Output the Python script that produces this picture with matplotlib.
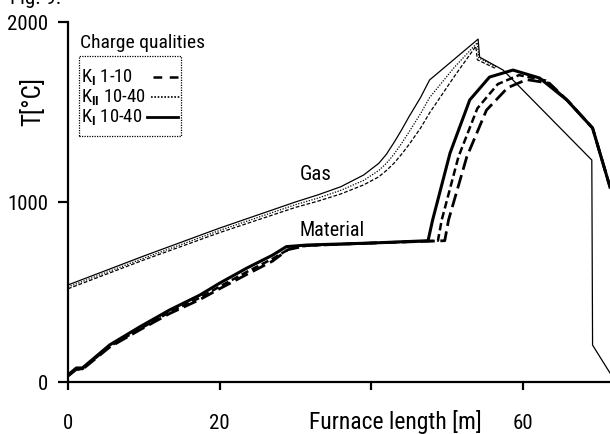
import matplotlib
matplotlib.use("Agg")
import matplotlib.pyplot as plt
import matplotlib.font_manager as fm
from matplotlib.lines import Line2D
from matplotlib.patches import Rectangle

# pick a narrow sans font if one is installed
_names = {f.name for f in fm.fontManager.ttflist}
NARROW = None
for cand in ['Liberation Sans Narrow', 'Arial Narrow', 'Roboto Condensed', 'Open Sans Condensed',
             'Noto Sans Condensed', 'DejaVu Sans Condensed']:
    if cand in _names:
        NARROW = cand
        break
STRETCH = 'normal'
if NARROW is None:
    for f in fm.fontManager.ttflist:
        if f.name in ('Roboto', 'Noto Sans', 'Open Sans') and str(f.stretch) in ('condensed', 'semi-condensed', 'extra-condensed'):
            NARROW = f.name
            STRETCH = 'condensed'
            break
BASE = NARROW if NARROW else 'Liberation Sans'
K = 1.0 if NARROW else 0.88

plt.rcParams['font.family'] = [BASE, 'DejaVu Sans']
plt.rcParams['font.stretch'] = STRETCH
plt.rcParams['mathtext.fontset'] = 'custom'
plt.rcParams['mathtext.rm'] = BASE
plt.rcParams['mathtext.bf'] = BASE + ':bold'
plt.rcParams['mathtext.it'] = BASE

# ---------------- data ----------------
gas_solid_x = [0, 10, 20, 30, 33, 36, 39, 41, 42, 43, 44, 45, 46.5, 47.7, 51, 54.1, 54.3, 57.4, 69.1, 69.2, 71.5]
gas_solid_y = [539, 700, 855, 1000, 1040, 1085, 1150, 1215, 1265, 1330, 1400, 1475, 1580, 1678, 1795, 1905, 1805, 1733, 1233, 205, 50]

gas_dot_x = [0, 10, 20, 30, 33, 36, 39, 41, 42, 43, 44, 45, 46.5, 47.7, 51, 54.0, 54.2, 56.5]
gas_dot_y = [528, 688, 842, 985, 1022, 1065, 1120, 1175, 1215, 1265, 1325, 1390, 1490, 1580, 1750, 1885, 1800, 1750]

gas_dash_x = [0, 10, 20, 30, 33, 36, 39, 41, 42, 43, 44, 45, 46.5, 47.7, 51, 53.8, 54.0, 56.5]
gas_dash_y = [518, 678, 830, 970, 1005, 1045, 1095, 1140, 1175, 1215, 1265, 1320, 1410, 1495, 1700, 1865, 1790, 1740]

mat_solid_x = [0, 1.1, 1.9, 5.5, 9.5, 13.4, 17.4, 20, 23.6, 27, 28.8, 31.5, 40, 47.5,
               48.1, 50.4, 53, 55.6, 58.7, 62.2, 65.8, 69.2, 71.5]
mat_solid_y = [39, 78, 78, 206, 307, 400, 483, 549, 633, 705, 752, 761, 772, 785,
               900, 1272, 1567, 1694, 1733, 1689, 1567, 1411, 1083]

mat_dot_x = [0, 1.1, 1.9, 5.5, 9.5, 13.4, 17.4, 20, 23.6, 27, 29.3, 31.5, 40, 48.8,
             49.3, 51.5, 54, 56.7, 59.5, 63, 65.8, 69.2, 71.5]
mat_dot_y = [35, 72, 72, 198, 295, 388, 468, 530, 612, 685, 742, 758, 772, 785,
             900, 1250, 1520, 1655, 1705, 1675, 1567, 1411, 1083]

mat_dash_x = [0, 1.1, 1.9, 5.5, 9.5, 13.4, 17.4, 20, 23.6, 27, 29.0, 31.5, 40, 49.7,
              50.2, 52.6, 55.2, 58, 60.5, 63.5, 66, 69.2, 71.5]
mat_dash_y = [33, 70, 70, 194, 290, 380, 458, 518, 598, 672, 735, 758, 772, 785,
              900, 1250, 1510, 1635, 1680, 1660, 1560, 1411, 1083]

x_ticks = [0, 20, 40, 60]
x_tick_labels = ['0', '20', '', '60']
y_ticks = [0, 1000, 2000]
y_tick_labels = ['0', '1000', '2000']

legend_labels = [r'K$_{\mathbf{I}}$ 1-10', r'K$_{\mathbf{II}}$ 10-40', r'K$_{\mathbf{I}}$ 10-40']

# ---------------- figure ----------------
W, H = 610, 434
fig = plt.figure(figsize=(W / 100, H / 100), dpi=100)
ax = fig.add_axes([68 / W, (H - 382) / H, (W - 68) / W, (382 - 22) / H])

ax.plot(gas_solid_x, gas_solid_y, color='black', lw=0.9)
ax.plot(gas_dot_x, gas_dot_y, color='black', lw=0.9, linestyle=(0, (1, 1.2)))
ax.plot(gas_dash_x, gas_dash_y, color='black', lw=0.9, linestyle=(0, (3, 1.5)))

ax.plot(mat_dash_x, mat_dash_y, color='black', lw=2.0, linestyle=(0, (5, 2)))
ax.plot(mat_dot_x, mat_dot_y, color='black', lw=1.8, linestyle=(0, (3, 1.5)))
ax.plot(mat_solid_x, mat_solid_y, color='black', lw=2.2)

ax.set_xlim(0, 71.5)
ax.set_ylim(0, 2000)
for s in ['top', 'right']:
    ax.spines[s].set_visible(False)
for s in ['left', 'bottom']:
    ax.spines[s].set_linewidth(1.6)
ax.set_xticks(x_ticks)
ax.set_xticklabels(x_tick_labels)
ax.set_yticks(y_ticks)
ax.set_yticklabels(y_tick_labels)
ax.tick_params(axis='x', direction='out', length=6, width=1.6, pad=17, labelsize=15 * K)
ax.tick_params(axis='y', direction='out', length=7, width=1.6, pad=7, labelsize=15 * K)

ax.text(32.7, 1150, 'Gas', fontsize=15 * K, ha='center', va='center')
ax.text(34.9, 839, 'Material', fontsize=14.5 * K, ha='center', va='center')

# axis titles
fig.text(395 / W, 1 - 422 / H, 'Furnace length [m]', fontsize=17 * K, ha='center', va='center')
fig.text(33 / W, 1 - 101 / H, 'T[°C]', fontsize=18 * K, rotation=90, ha='center', va='center')
fig.text(10 / W, 1 - 4 / H, 'Fig. 9:', fontsize=15 * K, ha='left', va='baseline')

# legend (manual)
fig.text(80 / W, 1 - 43 / H, 'Charge qualities', fontsize=14 * K, ha='left', va='center')
fig.patches.append(Rectangle((79 / W, 1 - 136 / H), (181 - 79) / W, (136 - 56) / H,
                             transform=fig.transFigure, fill=False, lw=0.9,
                             linestyle=(0, (1, 1)), edgecolor='black'))
rows = [77, 97, 117]
styles = [dict(lw=1.8, linestyle=(0, (3.5, 3))), dict(lw=1.2, linestyle=(0, (1, 1))), dict(lw=2.0, linestyle='-')]
seg = [(153, 178), (151, 180), (147, 178)]
for r, lab, st, (x0, x1) in zip(rows, legend_labels, styles, seg):
    fig.text(81 / W, 1 - r / H, lab, fontsize=13.5 * K, ha='left', va='center')
    fig.lines.append(Line2D([x0 / W, x1 / W], [1 - r / H, 1 - r / H], transform=fig.transFigure,
                            color='black', **st))

fig.savefig('out.png', dpi=100)
